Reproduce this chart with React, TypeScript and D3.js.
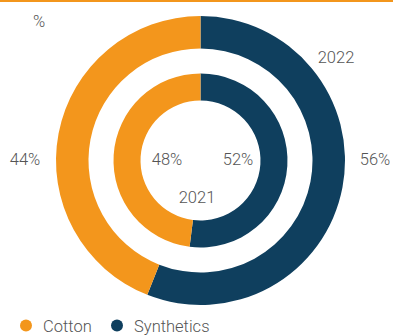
import { useEffect, useRef } from "react";
import * as d3 from "d3";

const categories = ["Synthetics", "Cotton"];
const colors = ["#0F3F5E", "#F3961C"];
const values2022 = [56, 44];
const values2021 = [52, 48];
const yearLabels = ["2022", "2021"];

const W = 393;
const H = 335;

const App = () => {
  const svgRef = useRef<SVGSVGElement>(null);

  useEffect(() => {
    if (!svgRef.current) return;
    const svg = d3.select(svgRef.current);
    svg.selectAll("*").remove();

    const cx = 200.5;
    const cy = 160.5;
    const font = "Roboto, 'Liberation Sans', sans-serif";
    const textColor = "#555";

    // top rule
    svg
      .append("rect")
      .attr("x", 0)
      .attr("y", 0)
      .attr("width", W)
      .attr("height", 2)
      .attr("fill", "#F3961C");

    const pie = d3
      .pie<number>()
      .sort(null)
      .value((d) => d);

    const g = svg.append("g").attr("transform", `translate(${cx},${cy})`);

    const outerArc = d3.arc<d3.PieArcDatum<number>>().innerRadius(112).outerRadius(144.5);
    const innerArc = d3.arc<d3.PieArcDatum<number>>().innerRadius(60).outerRadius(87);

    g.selectAll("path.outer")
      .data(pie(values2022))
      .enter()
      .append("path")
      .attr("class", "outer")
      .attr("d", outerArc)
      .attr("fill", (_, i) => colors[i]);

    g.selectAll("path.inner")
      .data(pie(values2021))
      .enter()
      .append("path")
      .attr("class", "inner")
      .attr("d", innerArc)
      .attr("fill", (_, i) => colors[i]);

    const label = (x: number, y: number, t: string, anchor = "middle") =>
      svg
        .append("text")
        .attr("x", x)
        .attr("y", y)
        .attr("text-anchor", anchor)
        .attr("font-family", font)
        .attr("font-weight", 300)
        .attr("font-size", 16.5)
        .attr("fill", textColor)
        .text(t);

    label(39, 27, "%");
    label(336, 63, yearLabels[0]);
    label(25, 165, `${values2022[1]}%`);
    label(375, 165, `${values2022[0]}%`);
    label(167, 165, `${values2021[1]}%`);
    label(238, 165, `${values2021[0]}%`);
    label(197, 203, yearLabels[1]);

    // legend
    const legendItems = [
      { name: categories[1], color: colors[1], x: 26 },
      { name: categories[0], color: colors[0], x: 117 },
    ];
    legendItems.forEach((d) => {
      svg
        .append("circle")
        .attr("cx", d.x)
        .attr("cy", 325.5)
        .attr("r", 6)
        .attr("fill", d.color);
      label(d.x + 17, 331.5, d.name, "start");
    });
  }, []);

  return (
    <svg
      ref={svgRef}
      width={W}
      height={H}
      style={{ position: "absolute", left: 0, top: 0, background: "#fff" }}
    />
  );
};

export default App;
